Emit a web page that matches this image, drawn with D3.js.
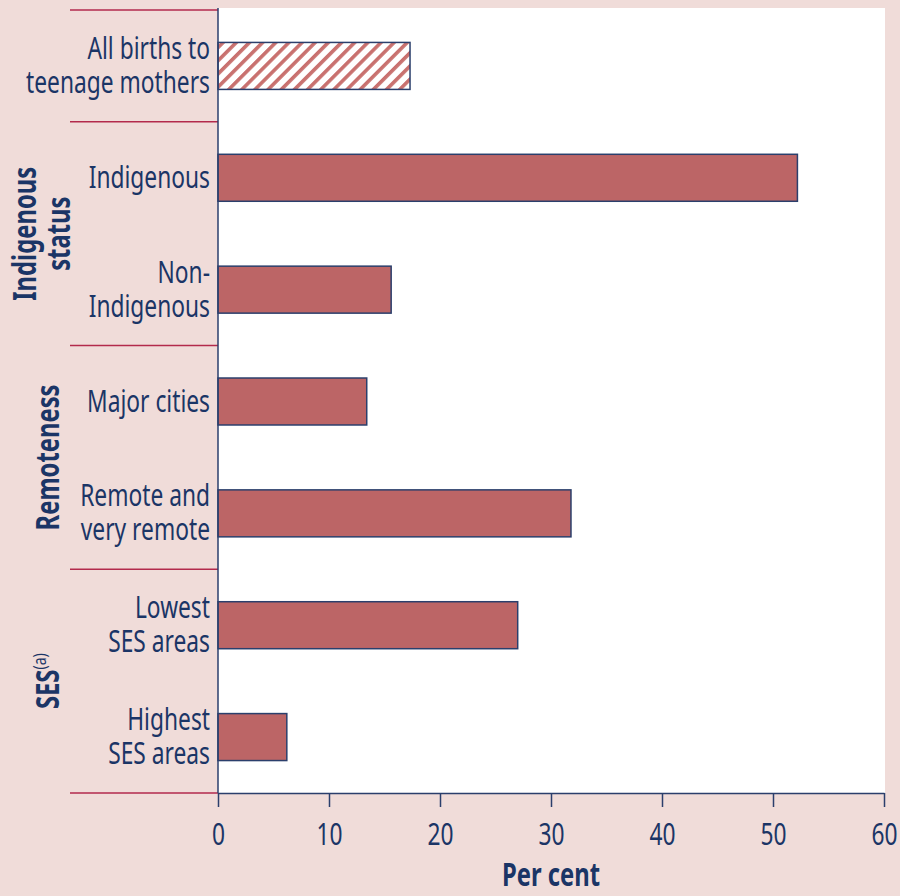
<!DOCTYPE html>
<html>
<head>
<meta charset="utf-8">
<script src="https://cdn.jsdelivr.net/npm/d3@7"></script>
<style>
  html, body { margin: 0; padding: 0; background: #f0dcd9; }
  svg { display: block; }
  text { font-family: "Noto Sans", "Open Sans", sans-serif; fill: #1b3566; }
</style>
</head>
<body>
<svg id="chart" width="900" height="896"></svg>
<script>
// Row labels (each entry is one or two lines), top to bottom
const categories = [
  ["All births to", "teenage mothers"],
  ["Indigenous"],
  ["Non-", "Indigenous"],
  ["Major cities"],
  ["Remote and", "very remote"],
  ["Lowest", "SES areas"],
  ["Highest", "SES areas"]
];
// Share of births to teenage mothers, per cent
const values = [17.3, 52.2, 15.6, 13.4, 31.8, 27.0, 6.2];
// Which rows are the overall total (drawn hatched)
const isTotal = [true, false, false, false, false, false, false];
// Group headings: rows spanned [first, last]
const groups = [
  { lines: ["Indigenous", "status"], from: 1, to: 2 },
  { lines: ["Remoteness"], from: 3, to: 4 },
  { lines: ["SES"], sup: "(a)", from: 5, to: 6 }
];
const xTicks = [0, 10, 20, 30, 40, 50, 60];

const svg = d3.select("#chart");
const plot = { left: 218, right: 884, top: 10, bottom: 793 };
const navy = "#1b3566";

const x = d3.scaleLinear().domain([0, 60]).range([plot.left, plot.right]);
const y = d3.scaleBand().domain(d3.range(categories.length))
  .range([plot.top, plot.bottom]).paddingInner(0.58).paddingOuter(0.29);
const rowStep = (plot.bottom - plot.top) / categories.length;

// Condensed look: measure a reference string and squeeze glyphs horizontally
const FS = 31, FSB = 32;
function measure(str, size, weight) {
  const t = svg.append("text").attr("font-size", size).attr("font-weight", weight).text(str);
  const w = t.node().getComputedTextLength();
  t.remove();
  return w;
}
const sx = 184 / measure("teenage mothers", FS, "normal");
const sxB = 146 / measure("Remoteness", FSB, "bold");

// Hatch pattern for the total bar
const defs = svg.append("defs");
const pat = defs.append("pattern").attr("id", "hatch")
  .attr("patternUnits", "userSpaceOnUse").attr("width", 9.3).attr("height", 9.3)
  .attr("patternTransform", "rotate(45)");
pat.append("rect").attr("width", 9.3).attr("height", 9.3).attr("fill", "#ffffff");
pat.append("rect").attr("x", 0).attr("width", 3.6).attr("height", 9.3).attr("fill", "#c9716f");

// White plotting area
svg.append("rect").attr("x", plot.left).attr("y", plot.top - 2)
  .attr("width", plot.right + 1 - plot.left).attr("height", plot.bottom - plot.top + 2)
  .attr("fill", "#ffffff");

// Group separator lines on the left
const sepRows = [0, 1, 3, 5, 7];
svg.selectAll("line.sep").data(sepRows).join("line").attr("class", "sep")
  .attr("x1", 70).attr("x2", plot.left)
  .attr("y1", d => plot.top + d * rowStep).attr("y2", d => plot.top + d * rowStep)
  .attr("stroke", "#b32a4c").attr("stroke-width", 1.5);

// Bars
svg.selectAll("rect.bar").data(values).join("rect").attr("class", "bar")
  .attr("x", x(0))
  .attr("y", (d, i) => y(i))
  .attr("width", d => x(d) - x(0))
  .attr("height", y.bandwidth())
  .attr("fill", (d, i) => isTotal[i] ? "url(#hatch)" : "#bc6566")
  .attr("stroke", "#2b3f6c").attr("stroke-width", 1.5);

// Row labels: one text per row, one tspan per line
const lineH = 34;
categories.forEach((lines, i) => {
  const cy = y(i) + y.bandwidth() / 2;
  const t = svg.append("text")
    .attr("transform", `translate(${plot.left - 8},${cy + 10}) scale(${sx},1)`)
    .attr("text-anchor", "end").attr("font-size", FS);
  lines.forEach((ln, j) => {
    t.append("tspan").attr("x", 0)
      .attr("y", (j - (lines.length - 1) / 2) * lineH).text(ln);
  });
});

// Group headings, rotated
groups.forEach(g => {
  const cy = plot.top + ((g.from + g.to + 1) / 2) * rowStep;
  const n = g.lines.length;
  const baseX = n === 2 ? [36, 70] : [59];
  g.lines.forEach((ln, j) => {
    const t = svg.append("text")
      .attr("transform", `translate(${baseX[j]},${cy}) rotate(-90) scale(${sxB},1)`)
      .attr("text-anchor", "middle").attr("font-weight", "bold").attr("font-size", FSB);
    t.append("tspan").text(ln);
    if (g.sup) {
      t.append("tspan").attr("font-size", 19).attr("font-weight", "normal")
        .attr("dy", -13).text(g.sup);
    }
  });
});

// X axis
const axis = d3.axisBottom(x).tickValues(xTicks).tickSize(14).tickPadding(8).tickSizeOuter(0);
const ax = svg.append("g").attr("transform", `translate(0,${plot.bottom})`).call(axis);
ax.select(".domain").attr("stroke", "#2b3f6c").attr("stroke-width", 1.5);
ax.selectAll(".tick line").attr("stroke", "#2b3f6c").attr("stroke-width", 1.5);
ax.selectAll(".tick text").remove();
ax.selectAll(".tick").append("text")
  .attr("transform", `translate(0,52) scale(${sx},1)`)
  .attr("text-anchor", "middle").attr("font-size", FS)
  .style("font-family", "'Noto Sans', sans-serif").attr("fill", navy)
  .text(d => d);

// Vertical axis line
svg.append("line").attr("x1", x(0)).attr("x2", x(0))
  .attr("y1", plot.top - 2).attr("y2", plot.bottom)
  .attr("stroke", "#2b3f6c").attr("stroke-width", 1.5);

// Axis title
svg.append("text")
  .attr("transform", `translate(${x(30)},886) scale(${sxB},1)`)
  .attr("text-anchor", "middle").attr("font-weight", "bold").attr("font-size", FSB)
  .text("Per cent");
</script>
</body>
</html>
